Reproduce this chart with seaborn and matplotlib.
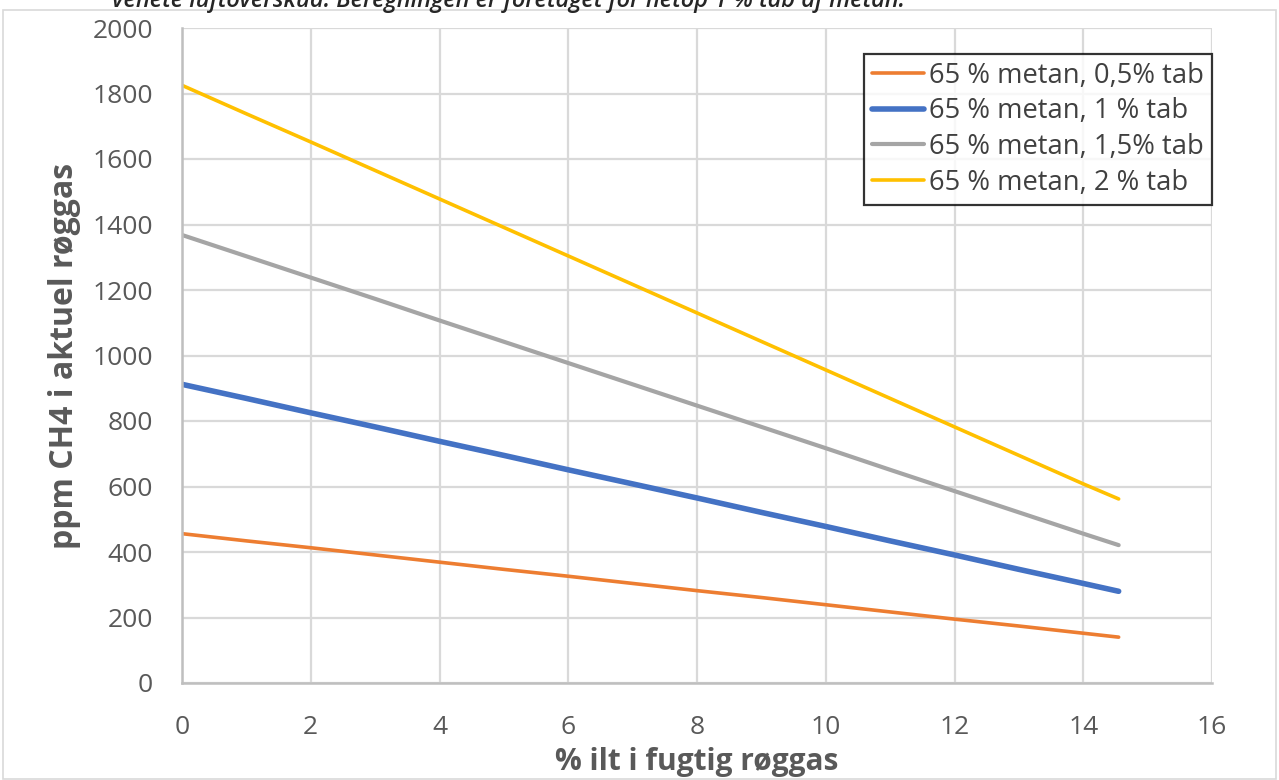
import matplotlib
matplotlib.use("Agg")
import matplotlib.pyplot as plt
import matplotlib.patches as mpatches
import seaborn as sns
import pandas as pd

# % oxygen in moist flue gas
ilt = [0, 1, 2, 3, 4, 5, 6, 7, 8, 9, 10, 11, 12, 13, 14, 14.55]

# ppm CH4 in actual flue gas, one list per methane-loss scenario
tab_05 = [456, 434, 413, 391, 369, 347, 326, 304, 282, 261, 239, 217, 195, 174, 152, 140]
tab_10 = [912, 869, 825, 782, 738, 695, 651, 608, 565, 521, 478, 434, 391, 347, 304, 280]
tab_15 = [1368, 1303, 1238, 1173, 1107, 1042, 977, 912, 847, 782, 717, 651, 586, 521, 456, 421]
tab_20 = [1825, 1738, 1652, 1565, 1478, 1391, 1304, 1217, 1130, 1043, 956, 869, 782, 695, 608, 562]

series_names = [
    "65 % metan, 0,5% tab",
    "65 % metan, 1 % tab",
    "65 % metan, 1,5% tab",
    "65 % metan, 2 % tab",
]
series_values = [tab_05, tab_10, tab_15, tab_20]
colors = ["#ED7D31", "#4472C4", "#A5A5A5", "#FFC000"]
widths = [2.6, 4.0, 3.0, 2.6]

x_ticks = [0, 2, 4, 6, 8, 10, 12, 14, 16]
y_ticks = [0, 200, 400, 600, 800, 1000, 1200, 1400, 1600, 1800, 2000]

rows = []
for name, vals in zip(series_names, series_values):
    for x, v in zip(ilt, vals):
        rows.append({"ilt": x, "ppm": v, "serie": name})
df = pd.DataFrame(rows)

sns.set_theme(style="white")
plt.rcParams["font.family"] = ["Open Sans", "DejaVu Sans"]

W, H = 1279, 780
fig = plt.figure(figsize=(W / 100, H / 100), dpi=100)
ax = fig.add_axes([182 / W, 1 - 683 / H, (1212 - 182) / W, (683 - 28) / H])

sns.lineplot(data=df, x="ilt", y="ppm", hue="serie", hue_order=series_names,
             palette=colors, ax=ax, legend=False, estimator=None, sort=False)
for line, lw in zip(ax.get_lines(), widths):
    line.set_linewidth(lw)
    line.set_solid_capstyle("round")

ax.set_xlim(0, 16)
ax.set_ylim(0, 2000)
ax.set_xticks(x_ticks)
ax.set_yticks(y_ticks)
ax.grid(True, color="#D9D9D9", linewidth=1.6)
ax.set_axisbelow(True)
for side in ["top", "right"]:
    ax.spines[side].set_visible(False)
for side in ["left", "bottom"]:
    ax.spines[side].set_color("#BFBFBF")
    ax.spines[side].set_linewidth(1.8)
ax.tick_params(axis="both", length=0, colors="#595959", labelsize=19)
ax.tick_params(axis="x", pad=23)
ax.tick_params(axis="y", pad=21)

ax.set_xlabel("% ilt i fugtig røggas", fontsize=21.5, fontweight="bold", color="#595959",
              labelpad=5)
ax.set_ylabel("ppm CH4 i aktuel røggas", fontsize=23, fontweight="bold", color="#595959",
              labelpad=8)

handles = [plt.Line2D([], [], color=c, linewidth=lw) for c, lw in zip(colors, widths)]
leg = ax.legend(handles, series_names, loc="upper right", bbox_to_anchor=(1.0, 0.961),
                prop={"family": "Open Sans", "size": 19.7}, frameon=True, fancybox=False,
                handlelength=1.9, handletextpad=0.18, borderpad=0.3, labelspacing=0.28,
                borderaxespad=0.0)
leg.get_frame().set_edgecolor("black")
leg.get_frame().set_linewidth(1.6)
for t in leg.get_texts():
    t.set_color("#404040")

# chart-area border
fig.patches.append(mpatches.Rectangle((3 / W, 1 / H), (W - 6) / W, (H - 11) / H,
                                      transform=fig.transFigure, fill=False,
                                      edgecolor="#D9D9D9", linewidth=1.2))

fig.text(112 / W, 1 - 7 / H,
         "venete luftoverskud. Beregningen er foretaget for netop 1 % tab af metan.",
         fontsize=17, style="italic", fontweight="semibold", color="#262626",
         va="baseline", ha="left")

fig.savefig("out.png", dpi=100)
